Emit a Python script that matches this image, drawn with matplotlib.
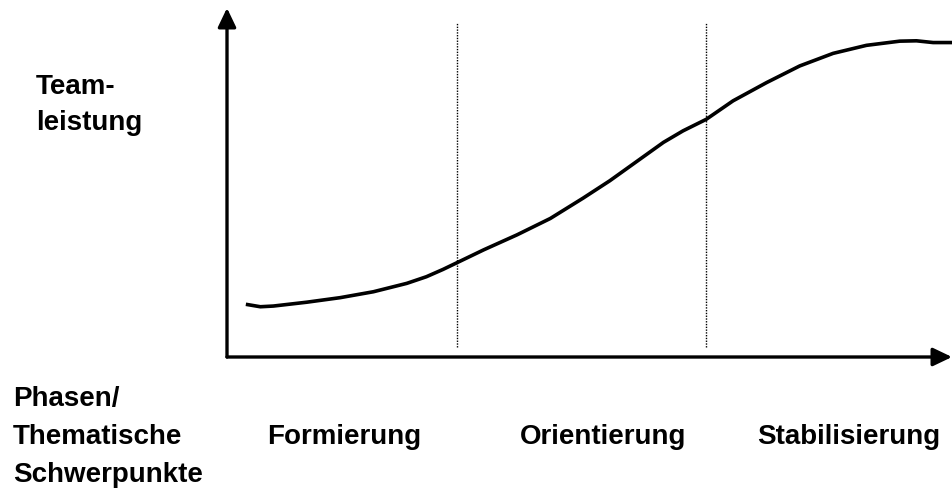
import matplotlib
matplotlib.use("Agg")
import matplotlib.pyplot as plt

# --- data ---
curve_x = [2.6, 4.6, 6.4, 11.0, 15.6, 20.2, 24.8, 27.5, 29.8, 31.7, 35.4, 40.0, 44.6, 49.1,
           52.8, 56.5, 60.2, 62.9, 66.1, 69.8, 74.4, 79.0, 83.6, 88.2, 92.8, 95.1, 97.4, 100.0]
curve_y = [15.1, 14.4, 14.6, 15.7, 17.0, 18.7, 21.1, 23.0, 25.1, 27.0, 30.7, 35.0, 39.7, 45.5,
           50.5, 56.0, 61.5, 64.8, 68.1, 73.4, 78.6, 83.4, 87.0, 89.3, 90.5, 90.6, 90.1, 90.1]
phase_bounds = [31.7, 66.1]
phase_names = ["Formierung", "Orientierung", "Stabilisierung"]
phase_label_x = [16.1, 51.9, 85.8]
y_label_lines = ["Team-", "leistung"]
x_label_lines = ["Phasen/", "Thematische", "Schwerpunkte"]

W, H = 953, 490
fig = plt.figure(figsize=(W / 100, H / 100), dpi=100)
fig.patch.set_facecolor("white")

left, right, bottom, top = 227, 952, 357, 8
ax = fig.add_axes([left / W, (H - bottom) / H, (right - left) / W, (bottom - top) / H])
ax.set_xlim(0, 100)
ax.set_ylim(0, 100)
ax.axis("off")

font = dict(family=["Liberation Sans", "DejaVu Sans"], weight="bold", size=20, color="black")

# axes with arrow heads
arrow = dict(arrowstyle="-|>,head_length=1.15,head_width=0.55", color="black", lw=2.4,
             shrinkA=0, shrinkB=0)
ax.annotate("", xy=(0, 1), xytext=(0, 0), xycoords="axes fraction",
            textcoords="axes fraction", arrowprops=arrow, annotation_clip=False)
ax.annotate("", xy=(1, 0), xytext=(0, 0), xycoords="axes fraction",
            textcoords="axes fraction", arrowprops=arrow, annotation_clip=False)

# phase separators
for b in phase_bounds:
    ax.plot([b, b], [2.9, 96.0], color="black", lw=1.0, ls=(0, (1, 1)))

# performance curve
ax.plot(curve_x, curve_y, color="black", lw=2.6, solid_joinstyle="round",
        solid_capstyle="butt")

# y label
for i, t in enumerate(y_label_lines):
    fig.text(36 / W, 1 - (87 + 36 * i) / H, t, ha="left", va="center", **font)

# x label
for i, t in enumerate(x_label_lines):
    fig.text(13 / W, 1 - (399 + 38 * i) / H, t, ha="left", va="center", **font)

# phase names (below the x axis, at y = 437 px)
label_y = (H - 437 - (H - bottom)) / (bottom - top)
for xv, name in zip(phase_label_x, phase_names):
    ax.text(xv, label_y, name, ha="center", va="center",
            transform=ax.get_xaxis_transform(), **font)

fig.savefig("out.png", dpi=100, facecolor="white")
